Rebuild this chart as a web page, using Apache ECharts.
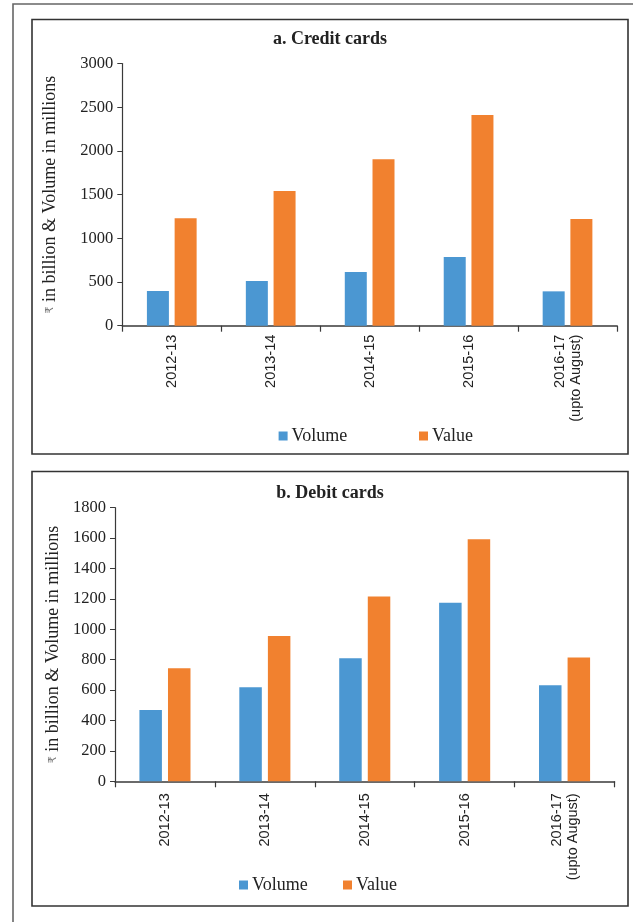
<!DOCTYPE html>
<html>
<head>
<meta charset="utf-8">
<script src="https://cdn.jsdelivr.net/npm/echarts@6/dist/echarts.min.js"></script>
<style>
html,body{margin:0;padding:0;background:#fff;}
#c{width:633px;height:922px;}
</style>
</head>
<body>
<div id="c"></div>
<script>
const categories = ['2012-13', '2013-14', '2014-15', '2015-16', '2016-17\n(upto August)'];
const creditVolume = [397, 511, 614, 786, 393];
const creditValue = [1229, 1542, 1905, 2412, 1221];
const debitVolume = [469, 618, 809, 1175, 632];
const debitValue = [743, 956, 1215, 1592, 814];
const creditTicks = {min: 0, max: 3000, interval: 500};
const debitTicks = {min: 0, max: 1800, interval: 200};
const seriesNames = ['Volume', 'Value'];
const titles = ['a. Credit cards', 'b. Debit cards'];
const yName = '{r|₹} in billion & Volume in millions';

const BLUE = '#4b97d2', ORANGE = '#f1812f';
const SERIF = '"Liberation Serif", "DejaVu Serif", serif';
const SANS = '"Liberation Sans", Arial, sans-serif';

const chart = echarts.init(document.getElementById('c'), null, {renderer: 'canvas'});

function xAxisCfg(gridIndex, margin) {
  return {
    type: 'category', gridIndex, data: categories,
    axisLine: {lineStyle: {color: '#3a3a3a', width: 1.5}},
    axisTick: {show: true, length: 6, alignWithLabel: false, lineStyle: {color: '#3a3a3a', width: 1.2}},
    axisLabel: {rotate: 90, margin, color: '#222', fontFamily: SANS, fontSize: 14.5, lineHeight: 16, interval: 0}
  };
}
function yAxisCfg(gridIndex, ticks, nameGap) {
  return {
    type: 'value', gridIndex, min: ticks.min, max: ticks.max, interval: ticks.interval,
    name: yName, nameLocation: 'middle', nameGap, nameRotate: 90,
    nameTextStyle: {fontFamily: SERIF, fontSize: 18, color: '#222',
      rich: {r: {fontFamily: '"DejaVu Sans", sans-serif', fontSize: 11, color: '#777'}}},
    axisLine: {show: true, lineStyle: {color: '#3a3a3a', width: 1.2}},
    axisTick: {show: true, length: 5, lineStyle: {color: '#3a3a3a', width: 1}},
    axisLabel: {color: '#222', fontFamily: SERIF, fontSize: 16.5, margin: 9,
      formatter: v => String(v)},
    splitLine: {show: false}
  };
}
function legendCfg(name, left, top) {
  return {
    data: [name], left, top, icon: 'rect', itemWidth: 9, itemHeight: 9, itemGap: 5,
    selectedMode: false, padding: 0,
    textStyle: {fontFamily: SERIF, fontSize: 18, color: '#222', padding: [0, 0, 0, -1]}
  };
}

const option = {
  animation: false,
  backgroundColor: '#fff',
  title: [
    {text: titles[0], left: 330, top: 30, textAlign: 'center', padding: 0,
     textStyle: {fontFamily: SERIF, fontWeight: 'bold', fontSize: 18, color: '#222'}},
    {text: titles[1], left: 330, top: 484, textAlign: 'center', padding: 0,
     textStyle: {fontFamily: SERIF, fontWeight: 'bold', fontSize: 18, color: '#222'}}
  ],
  legend: [
    legendCfg(seriesNames[0], 278.6, 427),
    legendCfg(seriesNames[1], 419, 427),
    legendCfg(seriesNames[0], 239, 876),
    legendCfg(seriesNames[1], 343, 876)
  ],
  grid: [
    {left: 122.3, top: 63.5, width: 494.7, height: 262.2},
    {left: 115, top: 507.7, width: 499.5, height: 273.6}
  ],
  xAxis: [xAxisCfg(0, 9), xAxisCfg(1, 12)],
  yAxis: [yAxisCfg(0, creditTicks, 63), yAxisCfg(1, debitTicks, 53)],
  series: [
    {name: seriesNames[0], type: 'bar', xAxisIndex: 0, yAxisIndex: 0, data: creditVolume, barWidth: 22, barGap: '26%', itemStyle: {color: BLUE}},
    {name: seriesNames[1], type: 'bar', xAxisIndex: 0, yAxisIndex: 0, data: creditValue, barWidth: 22, barGap: '26%', itemStyle: {color: ORANGE}},
    {name: seriesNames[0], type: 'bar', xAxisIndex: 1, yAxisIndex: 1, data: debitVolume, barWidth: 22.5, barGap: '27%', itemStyle: {color: BLUE}},
    {name: seriesNames[1], type: 'bar', xAxisIndex: 1, yAxisIndex: 1, data: debitValue, barWidth: 22.5, barGap: '27%', itemStyle: {color: ORANGE}}
  ],
  graphic: [
    {type: 'polyline', shape: {points: [[13, 922], [13, 4], [633, 4]]}, style: {stroke: '#666', lineWidth: 1.6, fill: null}, silent: true},
    {type: 'rect', shape: {x: 32, y: 19.5, width: 596, height: 434.5}, style: {stroke: '#333', lineWidth: 1.6, fill: null}, silent: true},
    {type: 'rect', shape: {x: 32, y: 471.5, width: 596, height: 434.5}, style: {stroke: '#333', lineWidth: 1.6, fill: null}, silent: true}
  ]
};
chart.setOption(option);
</script>
</body>
</html>
